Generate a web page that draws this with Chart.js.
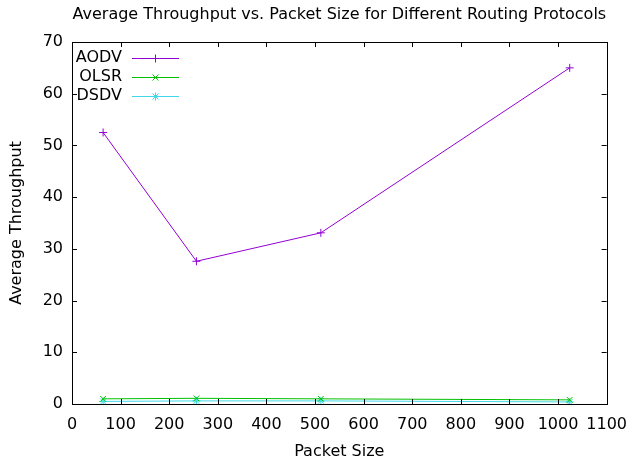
<!DOCTYPE html>
<html lang="en">
<head>
    <meta charset="UTF-8">
    <title>Average Throughput vs. Packet Size</title>
    <script src="https://cdn.jsdelivr.net/npm/chart.js"></script>
    <style>
        html, body { margin: 0; padding: 0; background: #fff; }
        #wrap { width: 638px; height: 465px; }
    </style>
</head>
<body>
    <div id="wrap"><canvas id="throughputChart"></canvas></div>
    <script>
        // values
        const packetSizes = [64, 256, 512, 1024];
        const aodv = [52.5, 27.6, 33.1, 65.0];
        const olsr = [1.0, 1.1, 1.0, 0.8];
        const dsdv = [0.5, 0.6, 0.6, 0.4];
        const xTicks = [0, 100, 200, 300, 400, 500, 600, 700, 800, 900, 1000, 1100];
        const yTicks = [0, 10, 20, 30, 40, 50, 60, 70];

        const font = "'DejaVu Sans', sans-serif";

        function toPoints(ys) {
            return packetSizes.map((x, i) => ({ x: x, y: ys[i] }));
        }

        // gnuplot-like frame: box, inward ticks on all sides, title and key
        const gnuplotFrame = {
            id: "gnuplotFrame",
            afterDraw(chart) {
                const ctx = chart.ctx;
                const a = chart.chartArea;
                const xs = chart.scales.x, ys = chart.scales.y;
                ctx.save();
                ctx.strokeStyle = "#000";
                ctx.lineWidth = 1;
                ctx.beginPath();
                xTicks.forEach(v => {
                    let px = Math.round(xs.getPixelForValue(v)) + 0.5;
                    ctx.moveTo(px, a.bottom); ctx.lineTo(px, a.bottom - 5);
                    ctx.moveTo(px, a.top); ctx.lineTo(px, a.top + 5);
                });
                yTicks.forEach(v => {
                    let py = Math.round(ys.getPixelForValue(v)) + 0.5;
                    ctx.moveTo(a.left, py); ctx.lineTo(a.left + 5, py);
                    ctx.moveTo(a.right, py); ctx.lineTo(a.right - 5, py);
                });
                ctx.stroke();
                ctx.strokeRect(Math.round(a.left) + 0.5, Math.round(a.top) + 0.5,
                    Math.round(a.right - a.left), Math.round(a.bottom - a.top));

                // title
                ctx.fillStyle = "#000";
                ctx.font = "16px " + font;
                ctx.textAlign = "center";
                ctx.textBaseline = "middle";
                ctx.fillText("Average Throughput vs. Packet Size for Different Routing Protocols",
                    (a.left + a.right) / 2, 15);

                // key
                ctx.font = "16px " + font;
                ctx.textAlign = "right";
                chart.data.datasets.forEach((ds, i) => {
                    let y = 58 + i * 19;
                    ctx.fillStyle = "#000";
                    ctx.fillText(ds.label, 122, y);
                    ctx.strokeStyle = ds.borderColor;
                    ctx.lineWidth = 1;
                    ctx.beginPath();
                    ctx.moveTo(132, y + 0.5); ctx.lineTo(179, y + 0.5);
                    ctx.stroke();
                    drawMark(ctx, ds.pointStyle, 155.5, y + 0.5, 4, ds.borderColor);
                });
                ctx.restore();
            }
        };

        function drawMark(ctx, style, x, y, r, color) {
            ctx.strokeStyle = color;
            ctx.beginPath();
            if (style === "cross" || style === "star") {
                ctx.moveTo(x - r, y); ctx.lineTo(x + r, y);
                ctx.moveTo(x, y - r); ctx.lineTo(x, y + r);
            }
            if (style === "crossRot" || style === "star") {
                let d = r * 0.75;
                ctx.moveTo(x - d, y - d); ctx.lineTo(x + d, y + d);
                ctx.moveTo(x - d, y + d); ctx.lineTo(x + d, y - d);
            }
            ctx.stroke();
        }

        new Chart(document.getElementById("throughputChart"), {
            type: "line",
            data: {
                datasets: [
                    { label: "AODV", data: toPoints(aodv), borderColor: "#9400d3", pointStyle: "cross" },
                    { label: "OLSR", data: toPoints(olsr), borderColor: "#00c000", pointStyle: "crossRot" },
                    { label: "DSDV", data: toPoints(dsdv), borderColor: "#40d8e8", pointStyle: "star" }
                ].map(ds => Object.assign(ds, {
                    borderWidth: 1,
                    pointRadius: 4,
                    pointBorderWidth: 1,
                    pointBorderColor: ds.borderColor,
                    pointBackgroundColor: ds.borderColor,
                    tension: 0,
                    fill: false
                }))
            },
            options: {
                responsive: true,
                maintainAspectRatio: false,
                animation: false,
                layout: { padding: { top: 42, right: 31, left: 0, bottom: 0 } },
                plugins: {
                    legend: { display: false },
                    title: { display: false },
                    tooltip: { enabled: false }
                },
                scales: {
                    x: {
                        type: "linear",
                        min: 0,
                        max: 1100,
                        afterFit: s => { s.height = 61; },
                        afterBuildTicks: s => { s.ticks = xTicks.map(v => ({ value: v })); },
                        grid: { display: false, drawTicks: false },
                        border: { display: false },
                        ticks: { color: "#000", font: { family: font, size: 16 }, padding: 11, maxRotation: 0, autoSkip: false,
                                 callback: v => String(v) },
                        title: { display: true, text: "Packet Size", color: "#000", font: { family: font, size: 16 }, padding: { top: 8 } }
                    },
                    y: {
                        min: 0,
                        max: 70,
                        afterFit: s => { s.width = 72; },
                        afterBuildTicks: s => { s.ticks = yTicks.map(v => ({ value: v })); },
                        grid: { display: false, drawTicks: false },
                        border: { display: false },
                        ticks: { color: "#000", font: { family: font, size: 16 }, padding: 9, callback: v => String(v) },
                        title: { display: true, text: "Average Throughput", color: "#000", font: { family: font, size: 16 }, padding: { top: 7, bottom: 0 } }
                    }
                }
            },
            plugins: [gnuplotFrame]
        });
    </script>
</body>
</html>
